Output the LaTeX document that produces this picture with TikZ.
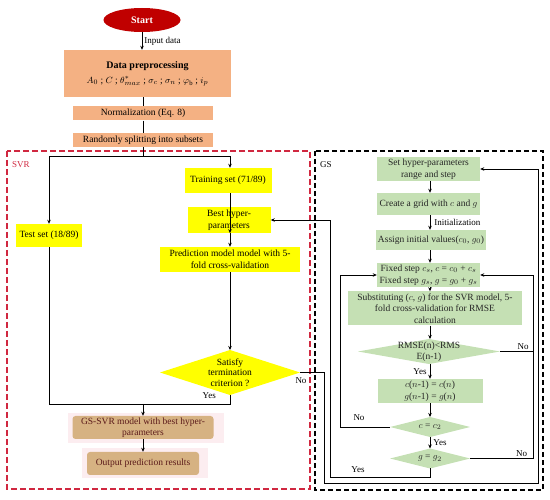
\documentclass[tikz,border=0pt]{standalone}
\usepackage{fontspec}
\setmainfont{Liberation Serif}
\usetikzlibrary{shapes.geometric,arrows.meta,calc}
\definecolor{salm}{HTML}{F4B183}
\definecolor{yel}{HTML}{FFFF00}
\definecolor{grn}{HTML}{C5E0B4}
\definecolor{tanc}{HTML}{D6B282}
\definecolor{tantext}{HTML}{5B1A1A}
\definecolor{startred}{HTML}{C00000}
\definecolor{svrred}{HTML}{D02840}
\definecolor{pinkbg}{HTML}{FCEDF0}
\tikzset{
  txt/.style={font=\fontsize{9.5}{11.5}\selectfont, align=center, inner sep=0pt},
  salmbox/.style={txt, fill=salm, rectangle},
  yelbox/.style={txt, fill=yel, rectangle},
  grnbox/.style={txt, fill=grn, rectangle, text=black!85},
  tanbox/.style={txt, fill=tanc, rectangle, rounded corners=3pt, text=tantext},
  dshape/.style={diamond, inner sep=0pt, outer sep=0pt},
  lbl/.style={font=\fontsize{9}{10}\selectfont, inner sep=1pt},
  arr/.style={-{Stealth[length=4pt,width=3.5pt]}, line width=0.9pt},
  ln/.style={line width=0.9pt},
}
\begin{document}
\begin{tikzpicture}[x=1pt,y=-1pt]
\useasboundingbox (0,0) rectangle (550,500);
% dashed frames
\draw[svrred, line width=1.3pt, dash pattern=on 6pt off 3pt] (7,151) rectangle (310,489);
\draw[black, line width=1.6pt, dash pattern=on 5pt off 3pt] (315,151) rectangle (543,490);
\node[lbl, text=svrred, anchor=west] (svrlab) at (11,165) {SVR};
\node[lbl, anchor=west] (gslab) at (319,165) {GS};
% backdrops
\fill[pinkbg] (68,413) rectangle (224,443);
\fill[pinkbg] (82,448) rectangle (208,478);
% top column
\node[ellipse, fill=startred, minimum width=77pt, minimum height=24pt, inner sep=0pt,
      text=white, font=\bfseries\fontsize{10}{12}\selectfont] (start) at (142,20) {Start};
\node[salmbox, minimum width=167pt, minimum height=47pt] (data) at (147.5,73.5)
  {\textbf{\fontsize{10}{12}\selectfont Data preprocessing}\\[4pt]
   $A_0$ ; $C$ ; $\theta^{*}_{max}$ ; $\sigma_c$ ; $\sigma_n$ ; $\varphi_{\mathrm{b}}$ ; $i_p$};
\node[salmbox, minimum width=140pt, minimum height=14pt] (norm) at (143,113.5) {Normalization (Eq. 8)};
\node[salmbox, minimum width=140pt, minimum height=14pt] (rand) at (143,140) {Randomly splitting into subsets};
% SVR column
\node[yelbox, minimum width=87pt, minimum height=25pt] (train) at (228,180.5) {Training set (71/89)};
\node[yelbox, minimum width=83pt, minimum height=26pt] (best) at (229,220) {Best hyper-\\parameters};
\node[yelbox, minimum width=140pt, minimum height=25pt] (pred) at (230,259.5) {Prediction model model with 5-\\fold cross-validation};
\node[yelbox, minimum width=66pt, minimum height=23pt] (test) at (49,235.5) {Test set (18/89)};
\node[dshape, fill=yel, minimum width=140pt, minimum height=45pt] (sat) at (230,372.5) {};
\node[txt, font=\fontsize{9.5}{10.5}\selectfont] (sattxt) at (230,372.5) {Satisfy\\termination\\criterion ?};
\node[tanbox, minimum width=141pt, minimum height=23pt] (gssvr) at (143,427.5) {GS-SVR model with best hyper-\\parameters};
\node[tanbox, minimum width=112pt, minimum height=23pt] (out) at (143,463.5) {Output prediction results};
% GS column
\node[grnbox, minimum width=103pt, minimum height=24pt] (set) at (428.5,169) {Set hyper-parameters\\range and step};
\node[grnbox, minimum width=103pt, minimum height=22pt] (grid) at (428.5,204) {Create a grid with $c$ and $g$};
\node[grnbox, minimum width=110pt, minimum height=20pt] (assign) at (431,240) {Assign initial values($c_0$, $g_0$)};
\node[grnbox, minimum width=103pt, minimum height=24pt] (fix) at (428.5,275)
  {Fixed step $c_s$, $c$ = $c_0$ + $c_s$\\Fixed step $g_s$, $g$ = $g_0$ + $g_s$};
\node[grnbox, minimum width=174pt, minimum height=34pt] (subs) at (435,308.5)
  {Substituting ($c$, $g$) for the SVR model, 5-\\fold cross-validation for RMSE\\calculation};
\node[dshape, fill=grn, minimum width=142pt, minimum height=25pt] (rmse) at (429,351.5) {};
\node[txt, text=black!85] (rmsetxt) at (429,351.5) {RMSE(n)<RMS\\E(n-1)};
\node[grnbox, minimum width=105pt, minimum height=24pt] (cn) at (430,391)
  {$c$($n$-1) = $c$($n$)\\$g$($n$-1) = $g$($n$)};
\node[dshape, fill=grn, minimum width=80pt, minimum height=20pt] (ctwo) at (430,427) {};
\node[txt, text=black!85] (ctwotxt) at (430,427) {$c$ = $c_2$};
\node[dshape, fill=grn, minimum width=80pt, minimum height=20pt] (gtwo) at (430,458.5) {};
\node[txt, text=black!85] (gtwotxt) at (430,458.5) {$g$ = $g_2$};
% coordinates
\coordinate (sp) at (143,156);
\coordinate (jn) at (143,404);
\coordinate (rx) at (533,0);
\coordinate (lx) at (340,0);
\coordinate (bx) at (330,477);
\coordinate (o1) at (324,483);
\coordinate (o2) at (538,483);
% top connectors
\draw[arr] (start) -- (start |- data.north) node[lbl, midway, anchor=west, xshift=1pt] (inlab) {Input data};
\draw[ln] (norm.north |- data.south) -- (norm.north);
\draw[ln] (norm) -- (rand);
\draw[ln] (rand) -- (sp);
\draw[arr] (sp) -| (test);
\draw[arr] (sp) -| (train.north -| pred);
% SVR connectors
\draw[arr] (train.south -| pred) -- (best.south -| pred);
\draw[arr] (best.south -| pred) -- (pred);
\draw[arr] (pred) -- (sat);
\draw[ln] (test) |- (sat.south |- jn) -- (sat.south);
\draw[arr] (jn) -- (gssvr);
\draw[arr] (gssvr) -- (out);
\node[lbl, anchor=north east] (yes1) at (217,391) {Yes};
% GS connectors
\draw[arr] (set.south -| cn) -- (grid.north -| cn);
\draw[arr] (grid.south -| cn) -- (assign.north -| cn) node[lbl, midway, anchor=west, xshift=3pt] (initlab) {Initialization};
\draw[arr] (assign.south -| cn) -- (fix.north -| cn);
\draw[arr] (fix.south -| cn) -- (subs.north -| cn);
\draw[arr] (subs.south -| cn) -- (rmse.north -| cn);
\draw[arr] (rmse.south -| cn) -- (cn) node[lbl, midway, anchor=east, xshift=-2pt] (yes2) {Yes};
\draw[arr] (cn) -- (ctwo);
\draw[arr] (ctwo) -- (gtwo) node[lbl, midway, anchor=west, xshift=2pt] (yes3) {Yes};
% loops
\draw[ln] (rmse.east) -- (rmse.east -| rx) node[lbl, pos=0.7, anchor=south] (no1) {No};
\draw[arr] (gtwo.east) -- (gtwo.east -| rx) node[lbl, pos=0.82, anchor=south] (no2) {No} |- (fix.east);
\draw[arr] (ctwo.west) -- (ctwo.west -| lx) |- (fix.west);
\node[lbl, anchor=south] (no3) at (359,422) {No};
\draw[arr] (gtwo.south) |- (bx) |- (best.east);
\node[lbl, anchor=south] (yes4) at (358,474) {Yes};
\draw[arr] (sat.east) -| (o1) -- (o2) |- (set.east);
\node[lbl, anchor=north] (no4) at (301,376) {No};
\end{tikzpicture}
\end{document}
